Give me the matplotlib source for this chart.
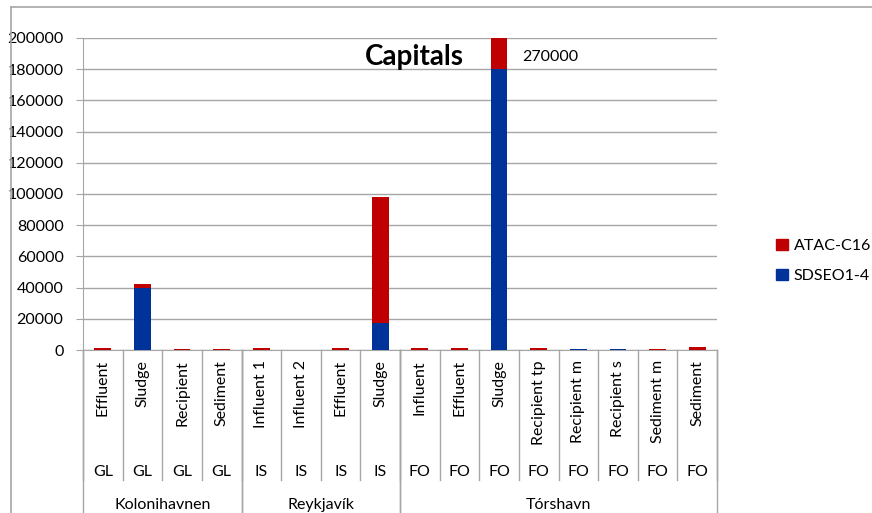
import numpy as np
import matplotlib.pyplot as plt
from matplotlib.lines import Line2D
from matplotlib.patches import Patch

# samples, country code, city
samples = ["Effluent", "Sludge", "Recipient", "Sediment",
           "Influent 1", "Influent 2", "Effluent", "Sludge",
           "Influent", "Effluent", "Sludge", "Recipient tp", "Recipient m",
           "Recipient s", "Sediment m", "Sediment"]
codes = ["GL", "GL", "GL", "GL", "IS", "IS", "IS", "IS",
         "FO", "FO", "FO", "FO", "FO", "FO", "FO", "FO"]
cities = ["Kolonihavnen", "Reykjavík", "Tórshavn"]
city_sizes = [4, 4, 8]

# values
sdseo = [300, 40000, 0, 0, 300, 0, 300, 17000,
         300, 300, 180000, 300, 900, 900, 0, 0]
atac = [700, 2000, 900, 900, 800, 0, 700, 81000,
        800, 800, 90000, 800, 0, 0, 900, 2000]

blue = "#003399"
red = "#C00000"
grey = "#A6A6A6"

plt.rcParams['font.family'] = ['Lato', 'DejaVu Sans']
fs = 11.5

fig = plt.figure(figsize=(8.72, 5.13), dpi=100)
W, H = 872.0, 513.0
x0, x1, ytop, ybot = 83, 717, 38, 350
ax = fig.add_axes([x0 / W, 1 - ybot / H, (x1 - x0) / W, (ybot - ytop) / H])

x = np.arange(len(samples))
ax.bar(x, sdseo, width=0.42, color=blue, zorder=3)
ax.bar(x, atac, width=0.42, bottom=sdseo, color=red, zorder=3)

ax.set_xlim(-0.5, len(samples) - 0.5)
ax.set_ylim(0, 200000)
ax.set_yticks(np.arange(0, 200001, 20000))
ax.set_yticklabels([str(v) for v in range(0, 200001, 20000)], fontsize=fs)
ax.yaxis.grid(True, color=grey, lw=1, zorder=0)
ax.set_xticks([])
ax.tick_params(axis='y', length=5, color=grey, pad=9)
for s in ["top", "right"]:
    ax.spines[s].set_visible(False)
for s in ["left", "bottom"]:
    ax.spines[s].set_color(grey)

ph = ybot - ytop  # axes height in px
def fy(px):
    return -(px - ybot) / ph

tr = ax.get_xaxis_transform()
# sample labels and codes
for i in range(len(samples)):
    ax.text(i, fy(360), samples[i], rotation=90, ha='center', va='top',
            fontsize=fs, transform=tr)
    ax.text(i, fy(472), codes[i], ha='center', va='center',
            fontsize=fs, transform=tr)
# separators between samples
for i in range(len(samples) + 1):
    ax.add_line(Line2D([i - 0.5, i - 0.5], [0, fy(480)], color=grey, lw=1,
                       transform=tr, clip_on=False))
# city labels and separators
start = 0
for name, n in zip(cities, city_sizes):
    ax.text(start + n / 2 - 0.5, fy(505), name, ha='center', va='center',
            fontsize=fs, transform=tr)
    for b in [start - 0.5, start + n - 0.5]:
        ax.add_line(Line2D([b, b], [0, fy(520)], color=grey, lw=1,
                           transform=tr, clip_on=False))
    start += n

# title and clipped bar value
fig.text(414 / W, 1 - 57 / H, "Capitals", ha='center', va='center',
         fontsize=20, fontweight='bold')
fig.text(522 / W, 1 - 57 / H, str(sdseo[10] + atac[10]), ha='left', va='center',
         fontsize=fs)

# legend
handles = [Patch(color=red, label="ATAC-C16"), Patch(color=blue, label="SDSEO1-4")]
fig.legend(handles=handles, loc='center left', bbox_to_anchor=(762 / W, 1 - 261 / H),
           frameon=False, fontsize=fs, handlelength=0.7, handleheight=0.7,
           handletextpad=0.4, labelspacing=1.0)

# outer frame
fig.add_artist(Line2D([11 / W, 11 / W], [0, 1 - 7 / H], color=grey, lw=1.2))
fig.add_artist(Line2D([11 / W, 1], [1 - 7 / H, 1 - 7 / H], color=grey, lw=1.2))

fig.savefig("out.png", dpi=100)
